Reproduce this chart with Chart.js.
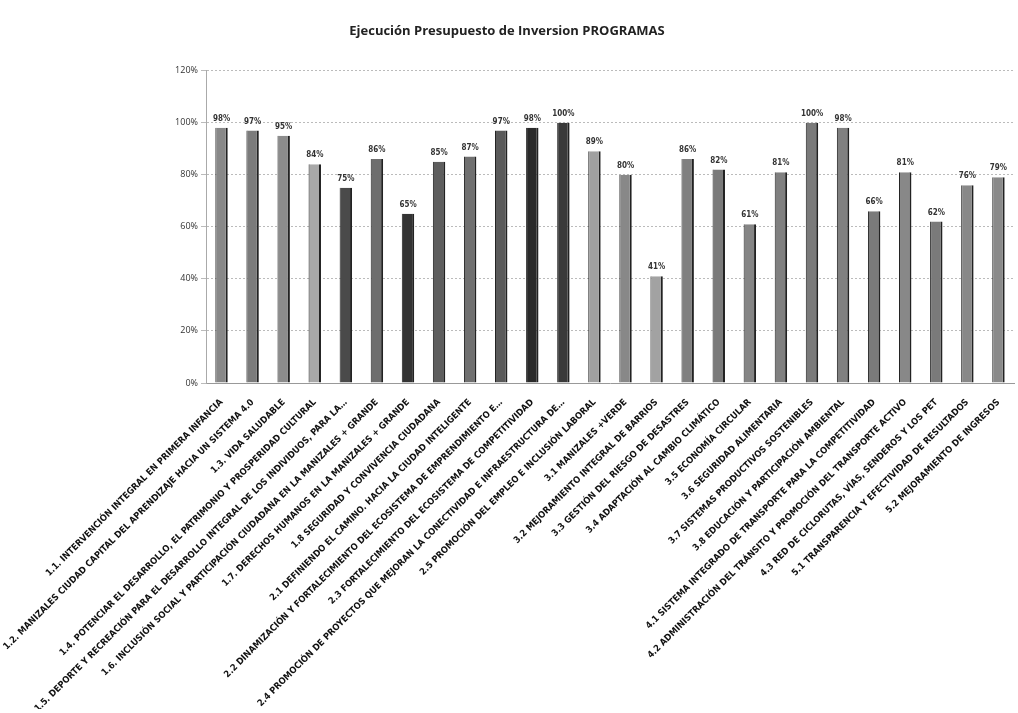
<!DOCTYPE html>
<html>
<head>
<meta charset="utf-8">
<title>Ejecución Presupuesto de Inversion PROGRAMAS</title>
<script src="https://cdn.jsdelivr.net/npm/chart.js@4.4.0/dist/chart.umd.min.js"></script>
<style>
    html, body { margin: 0; padding: 0; background: #fff; }
    #wrap { width: 1018px; height: 713px; }
</style>
</head>
<body>
<div id="wrap"><canvas id="chart"></canvas></div>
<script>
// Programas del plan de desarrollo
const programas = [
    '1.1. INTERVENCIÓN INTEGRAL EN PRIMERA INFANCIA',
    '1.2. MANIZALES CIUDAD CAPITAL DEL APRENDIZAJE HACIA UN SISTEMA 4.0',
    '1.3. VIDA SALUDABLE',
    '1.4. POTENCIAR EL DESARROLLO, EL PATRIMONIO Y PROSPERIDAD CULTURAL',
    '1.5. DEPORTE Y RECREACIÓN PARA EL DESARROLLO INTEGRAL DE LOS INDIVIDUOS, PARA LA…',
    '1.6. INCLUSIÓN SOCIAL Y PARTICIPACIÓN CIUDADANA EN LA MANIZALES + GRANDE',
    '1.7. DERECHOS HUMANOS EN LA MANIZALES + GRANDE',
    '1.8 SEGURIDAD Y CONVIVENCIA CIUDADANA',
    '2.1 DEFINIENDO EL CAMINO. HACIA LA CIUDAD INTELIGENTE',
    '2.2 DINAMIZACIÓN Y FORTALECIMIENTO DEL ECOSISTEMA DE EMPRENDIMIENTO E…',
    '2.3 FORTALECIMIENTO DEL ECOSISTEMA DE COMPETITIVIDAD',
    '2.4 PROMOCIÓN DE PROYECTOS QUE MEJORAN LA CONECTIVIDAD E INFRAESTRUCTURA DE…',
    '2.5 PROMOCIÓN DEL EMPLEO E INCLUSIÓN LABORAL',
    '3.1 MANIZALES +VERDE',
    '3.2 MEJORAMIENTO INTEGRAL DE BARRIOS',
    '3.3 GESTIÓN DEL RIESGO DE DESASTRES',
    '3.4 ADAPTACIÓN AL CAMBIO CLIMÁTICO',
    '3.5 ECONOMÍA CIRCULAR',
    '3.6 SEGURIDAD ALIMENTARIA',
    '3.7 SISTEMAS PRODUCTIVOS SOSTENIBLES',
    '3.8 EDUCACIÓN Y PARTICIPACIÓN AMBIENTAL',
    '4.1 SISTEMA INTEGRADO DE TRANSPORTE PARA LA COMPETITIVIDAD',
    '4.2 ADMINISTRACIÓN DEL TRÁNSITO Y PROMOCIÓN DEL TRANSPORTE ACTIVO',
    '4.3 RED DE CICLORUTAS, VÍAS, SENDEROS Y LOS PET',
    '5.1 TRANSPARENCIA Y EFECTIVIDAD DE RESULTADOS',
    '5.2 MEJORAMIENTO DE INGRESOS'
];

// % de ejecucion
const ejecucion = [98, 97, 95, 84, 75, 86, 65, 85, 87, 97, 98, 100, 89,
                   80, 41, 86, 82, 61, 81, 100, 98, 66, 81, 62, 76, 79];

const yMin = 0;
const yMax = 120;
const yStep = 20;

// tonos de gris de cada barra (escaneado)
const grises = ['#888888', '#7b7b7b', '#8c8c8c', '#a8a8a8', '#4a4a4a', '#6e6e6e', '#333333',
                '#5e5e5e', '#707070', '#5a5a5a', '#2a2a2a', '#3a3a3a', '#a0a0a0',
                '#888888', '#a2a2a2', '#808080', '#7a7a7a', '#858585', '#808080', '#7a7a7a',
                '#808080', '#7a7a7a', '#888888', '#7a7a7a', '#888888', '#8a8a8a'];

const fuenteEtiq = '"Liberation Sans Narrow", "DejaVu Sans Condensed", sans-serif';

// etiquetas de porcentaje encima de las barras
const etiquetas = {
    id: 'etiquetas',
    afterDatasetsDraw(chart) {
        const ctx = chart.ctx;
        const meta = chart.getDatasetMeta(0);
        ctx.save();
        ctx.font = 'bold 8px ' + fuenteEtiq;
        ctx.fillStyle = '#333';
        ctx.textAlign = 'center';
        ctx.textBaseline = 'bottom';
        meta.data.forEach(function(bar, i) {
            ctx.fillText(ejecucion[i] + '%', bar.x, bar.y - 5);
        });
        ctx.restore();
    }
};

new Chart(document.getElementById('chart'), {
    type: 'bar',
    data: {
        labels: programas,
        datasets: [{
            data: ejecucion,
            backgroundColor: grises,
            borderColor: '#222',
            borderWidth: { right: 2, left: 1, top: 0, bottom: 0 },
            barPercentage: 0.4,
            categoryPercentage: 1
        }]
    },
    options: {
        responsive: true,
        maintainAspectRatio: false,
        animation: false,
        layout: { padding: { left: 0, right: 4, top: 0, bottom: 4 } },
        plugins: {
            legend: { display: false },
            tooltip: { enabled: false },
            title: {
                display: true,
                text: 'Ejecución Presupuesto de Inversion PROGRAMAS',
                color: '#222',
                font: { family: '"Open Sans", sans-serif', size: 13, weight: 'bold' },
                padding: { top: 23, bottom: 32 }
            }
        },
        scales: {
            x: {
                afterFit: function(s) { s.height = 326; },
                grid: { display: false },
                border: { color: '#999', dash: [2, 2] },
                ticks: {
                    autoSkip: false,
                    minRotation: 45,
                    maxRotation: 45,
                    padding: 6,
                    color: '#111',
                    font: { family: fuenteEtiq, size: 9.2, weight: 'bold' }
                }
            },
            y: {
                min: yMin,
                max: yMax,
                afterFit: function(s) { s.width = 206; },
                ticks: {
                    stepSize: yStep,
                    color: '#333',
                    font: { family: '"Open Sans", sans-serif', size: 9 },
                    callback: function(v) { return v + '%'; }
                },
                grid: { color: '#bbb', borderDash: [2, 2], tickLength: 5 },
                border: { color: '#aaa', dash: [2, 2] }
            }
        }
    },
    plugins: [etiquetas]
});
</script>
</body>
</html>
